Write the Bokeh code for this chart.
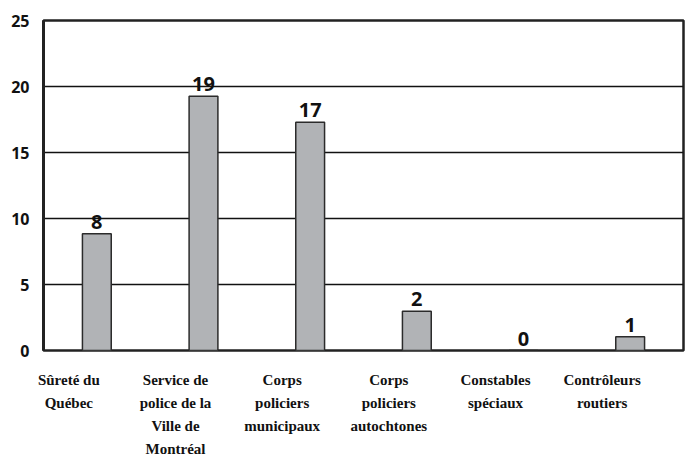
from bokeh.plotting import figure
from bokeh.models import ColumnDataSource, LabelSet, FixedTicker, Range1d, LinearAxis
from bokeh.core.properties import value
from bokeh.embed import file_html
from bokeh.resources import INLINE

# ---- data ----
categories = ["Sûreté du\nQuébec",
              "Service de\npolice de la\nVille de\nMontréal",
              "Corps\npoliciers\nmunicipaux",
              "Corps\npoliciers\nautochtones",
              "Constables\nspéciaux",
              "Contrôleurs\nroutiers"]
bar_heights = [8.85, 19.27, 17.3, 2.98, 0, 1.04]
value_labels = ["8", "19", "17", "2", "0", "1"]
y_ticks = [0, 5, 10, 15, 20, 25]

FONT = "Liberation Sans Narrow"
FONT_REG = "Open Sans"

n = len(categories)
xpos = [i + 0.5 for i in range(n)]

p = figure(width=685, height=460, output_backend="svg", toolbar_location=None,
           x_range=Range1d(0, n), y_range=Range1d(0, 25),
           min_border_left=43, min_border_right=2, min_border_top=20, min_border_bottom=104)

src = ColumnDataSource(dict(x=xpos, top=bar_heights, lab=value_labels))
p.vbar(x="x", top="top", width=0.27, source=src,
       fill_color="#b1b3b6", line_color="#2b2b2b", line_width=1.5)

p.add_layout(LabelSet(x="x", y="top", text="lab", source=src,
                      text_align="center", text_baseline="bottom", y_offset=5,
                      text_font=value(FONT_REG), text_font_style="bold", text_font_size="20px",
                      text_color="#111111"))

p.xaxis.visible = False
p.xgrid.visible = False

# category labels on an extra, slightly shifted axis so text is left-aligned under bars
shift = 0.2625
p.extra_x_ranges = {"lab": Range1d(shift, n + shift)}
lab_axis = LinearAxis(x_range_name="lab", ticker=FixedTicker(ticks=xpos),
                      major_label_overrides={t: c for t, c in zip(xpos, categories)})
lab_axis.axis_line_color = None
lab_axis.major_tick_line_color = None
lab_axis.minor_tick_line_color = None
lab_axis.major_label_standoff = 15
lab_axis.major_label_text_align = "left"
lab_axis.major_label_text_font = FONT
lab_axis.major_label_text_font_style = "bold"
lab_axis.major_label_text_font_size = "15px"
lab_axis.major_label_text_line_height = 1.45
lab_axis.major_label_text_color = "#111111"
p.add_layout(lab_axis, "below")

p.ygrid.ticker = FixedTicker(ticks=y_ticks)
p.ygrid.grid_line_color = "#111111"
p.ygrid.grid_line_width = 1.5

p.yaxis.ticker = FixedTicker(ticks=y_ticks)
p.yaxis.axis_line_width = 3
p.yaxis.axis_line_color = "#222222"
p.yaxis.major_tick_line_color = None
p.yaxis.minor_tick_line_color = None
p.yaxis.major_label_standoff = 8
p.yaxis.major_label_text_font = FONT_REG
p.yaxis.major_label_text_font_style = "bold"
p.yaxis.major_label_text_font_size = "16px"
p.yaxis.major_label_text_color = "#111111"

p.outline_line_color = "#222222"
p.outline_line_width = 2.5
p.background_fill_color = "white"
p.border_fill_color = "white"

open("out.html", "w").write(file_html(p, INLINE))
